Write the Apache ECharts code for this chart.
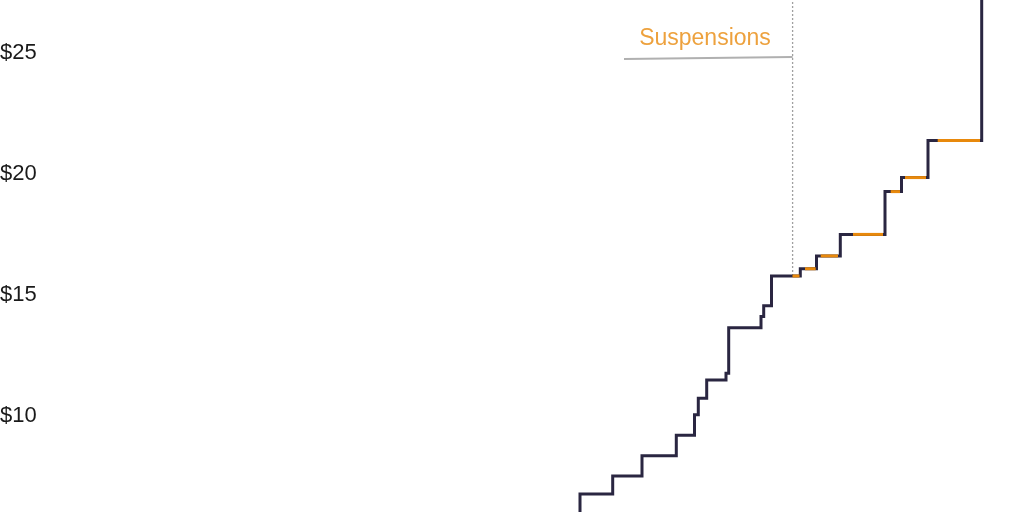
<!DOCTYPE html>
<html>
<head>
<meta charset="utf-8">
<script src="https://cdn.jsdelivr.net/npm/echarts@6/dist/echarts.min.js"></script>
<style>
  html, body { margin: 0; padding: 0; background: #fff; }
  #chart { width: 1024px; height: 512px; }
</style>
</head>
<body>
<div id="chart"></div>
<script>
// Step changes: position on the (unlabelled) horizontal scale and the new level in dollars
const stepX = [58.0, 58.0, 61.27, 64.2, 67.63, 69.45, 69.83, 70.67, 72.6, 72.87, 76.1, 76.37, 77.15, 80.03, 81.65, 84.03, 88.5, 90.15, 92.8, 98.17];
const stepValue = [5.0, 6.77, 7.52, 8.36, 9.20, 10.05, 10.73, 11.49, 11.77, 13.65, 14.11, 14.56, 15.79, 16.09, 16.62, 17.51, 19.28, 19.86, 21.39, 29.0];

// Suspension periods (highlighted in orange)
const suspStart = [79.25, 80.5, 82.07, 85.3, 89.07, 90.5, 93.77];
const suspEnd = [79.95, 81.57, 83.8, 88.3, 90.0, 92.6, 98.0];
const suspValue = [15.79, 16.09, 16.62, 17.51, 19.28, 19.86, 21.39];

// Y-axis tick labels
const yTicks = [0, 5, 10, 15, 20, 25, 30];

// Annotation
const annotText = 'Suspensions';
const annotX = 70.5, annotY = 25.6;
const leaderFrom = [62.4, 24.76], leaderTo = [79.26, 24.85];
const dottedX = 79.26, dottedFrom = 15.79, dottedTo = 30;

const dark = '#2a2641';
const orange = '#e8890c';

const mainData = stepX.map((x, i) => [x, stepValue[i]]);

const suspSeries = suspStart.map((s, i) => ({
  type: 'line',
  data: [[s, suspValue[i]], [suspEnd[i], suspValue[i]]],
  symbol: 'none',
  lineStyle: { color: orange, width: 3 },
  z: 5,
  silent: true,
  animation: false
}));

const chart = echarts.init(document.getElementById('chart'), null, { renderer: 'canvas' });
chart.setOption({
  animation: false,
  backgroundColor: '#ffffff',
  grid: { left: 0, width: 1024, top: -67.6, height: 725.4, containLabel: false, outerBoundsMode: 'none' },
  xAxis: {
    type: 'value', min: 0, max: 102.4, show: false
  },
  yAxis: {
    type: 'value', min: yTicks[0], max: yTicks[yTicks.length - 1], interval: 5,
    axisLine: { show: false }, axisTick: { show: false },
    splitLine: { show: false },
    axisLabel: {
      inside: true, margin: 0, align: 'left',
      fontFamily: 'Liberation Sans, Arial, sans-serif', fontSize: 22, color: '#1a1a1a',
      formatter: v => '$' + v
    }
  },
  series: [
    {
      type: 'line',
      data: [[dottedX, dottedFrom], [dottedX, dottedTo]],
      symbol: 'none',
      lineStyle: { color: '#a0a0a0', width: 1.3, type: [2, 2] },
      z: 1, silent: true
    },
    {
      type: 'line',
      data: [leaderFrom, leaderTo],
      symbol: 'none',
      lineStyle: { color: '#b0b0b0', width: 2 },
      z: 1, silent: true
    },
    {
      type: 'line',
      step: 'end',
      data: mainData,
      symbol: 'none',
      lineStyle: { color: dark, width: 3, join: 'miter' },
      z: 3, silent: true
    },
    ...suspSeries,
    {
      type: 'scatter',
      data: [[annotX, annotY]],
      symbolSize: 0,
      silent: true,
      label: {
        show: true, position: 'inside',
        formatter: annotText,
        fontFamily: 'Liberation Sans, Arial, sans-serif', fontSize: 23, color: orange
      },
      z: 6
    }
  ]
});
</script>
</body>
</html>
